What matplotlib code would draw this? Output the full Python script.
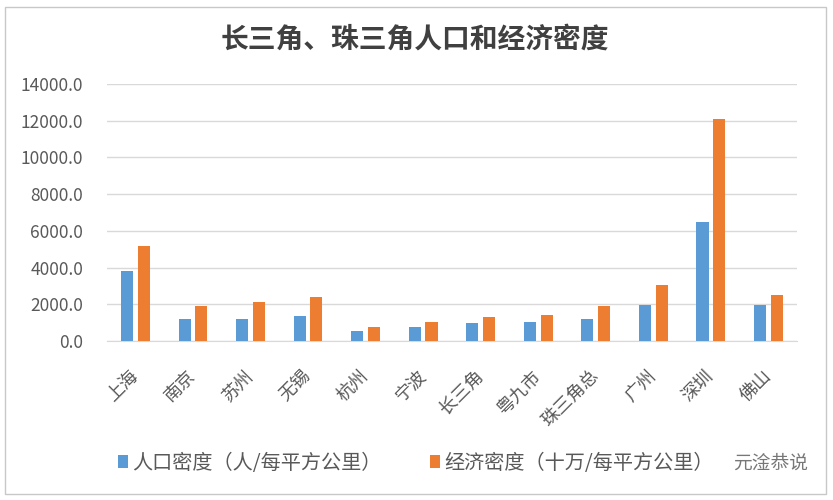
import matplotlib
matplotlib.use('Agg')
import matplotlib.pyplot as plt
import numpy as np
from matplotlib.patches import Rectangle

plt.rcParams['font.family'] = ['Noto Sans CJK SC', 'DejaVu Sans']

# datos
ciudades = ['上海', '南京', '苏州', '无锡', '杭州', '宁波', '长三角',
            '粤九市', '珠三角总', '广州', '深圳', '佛山']
poblacion = [3800, 1210, 1210, 1350, 530, 750, 970, 1040, 1190, 1960, 6480, 1960]
economia = [5150, 1880, 2120, 2410, 750, 1060, 1330, 1430, 1880, 3030, 12090, 2480]
etiquetas_y = ['0.0', '2000.0', '4000.0', '6000.0', '8000.0',
               '10000.0', '12000.0', '14000.0']
serie1 = '人口密度（人/每平方公里）'
serie2 = '经济密度（十万/每平方公里）'

azul = '#5B9BD5'
naranja = '#ED7D31'
gris = '#595959'

fig = plt.figure(figsize=(8.33, 5), dpi=100)
ax = fig.add_axes([0.128, 0.318, 0.829, 0.514])

x = np.arange(len(ciudades))
w = 0.21
ax.bar(x - 0.145, poblacion, w, color=azul, label=serie1, zorder=3)
ax.bar(x + 0.145, economia, w, color=naranja, label=serie2, zorder=3)

ax.set_xlim(-0.5, len(ciudades) - 0.5)
ax.set_ylim(0, 14000)
ax.set_yticks(np.arange(0, 14001, 2000))
ax.set_yticklabels(etiquetas_y, fontsize=12.5, color=gris)
ax.yaxis.grid(True, color='#d9d9d9', linewidth=1, zorder=0)
ax.tick_params(axis='both', length=0)
ax.tick_params(axis='y', pad=17)
for s in ['top', 'right', 'left']:
    ax.spines[s].set_visible(False)
ax.spines['bottom'].set_color('#d9d9d9')

ax.set_xticks(x)
ax.set_xticklabels(ciudades, rotation=45, ha='right', va='center',
                   rotation_mode='anchor', fontsize=13, color=gris)
ax.tick_params(axis='x', pad=23)

fig.text(0.498, 0.92, '长三角、珠三角人口和经济密度', ha='center', va='center',
         fontsize=20, fontweight='bold', color='#404040')

fig.legend(loc='center left', bbox_to_anchor=(0.132, 0.074), ncol=2,
           frameon=False, fontsize=14.5, labelcolor=gris,
           handlelength=0.5, handleheight=0.6, handletextpad=0.2,
           columnspacing=2.4, borderaxespad=0)

fig.text(0.97, 0.074, '元淦恭说', ha='right', va='center', fontsize=13.5,
         color='#777777')

# marco exterior
fig.patches.append(Rectangle((0.006, 0.012), 0.985, 0.975, transform=fig.transFigure,
                             fill=False, edgecolor='#c8c8c8', linewidth=1))

fig.savefig('out.png', dpi=100, facecolor='white')
